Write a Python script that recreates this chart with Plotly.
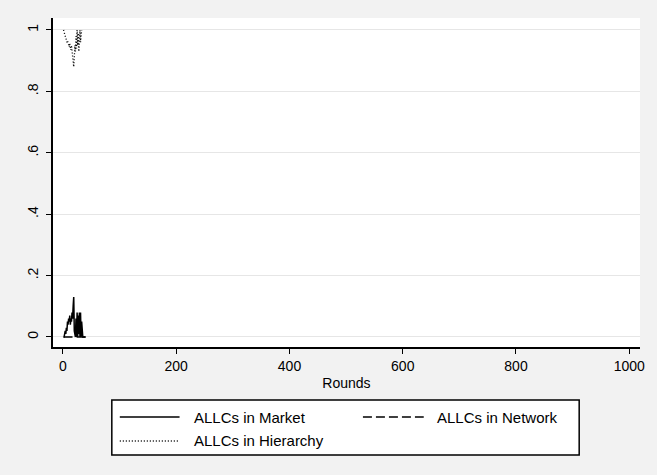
import plotly.graph_objects as go

rounds = list(range(1, 41))
market = [0, 0, 0.01, 0.02, 0.01, 0.03, 0.02, 0.05, 0.04, 0.06,
          0.05, 0.07, 0.04, 0.06, 0.05, 0.08, 0.06, 0.10, 0.13, 0.02,
          0, 0, 0.06, 0, 0.08, 0, 0.07, 0.01, 0.08, 0,
          0.08, 0, 0.05, 0, 0, 0, 0, 0, 0, 0]
network = [0] * 40
hier_rounds = list(range(1, 34))
hierarchy = [1.0, 0.99, 0.985, 0.98, 0.975, 0.97, 0.96, 0.965, 0.955, 0.95,
             0.945, 0.955, 0.94, 0.935, 0.95, 0.93, 0.92, 0.90, 0.88, 0.91,
             0.95, 0.93, 0.98, 0.94, 1.0, 0.95, 0.99, 0.93, 0.97, 1.0,
             0.96, 1.0, 1.0]

series_names = ["ALLCs in Market", "ALLCs in Network", "ALLCs in Hierarchy"]
x_ticks = [0, 200, 400, 600, 800, 1000]
y_ticks = [0, 0.2, 0.4, 0.6, 0.8, 1]
y_labels = ["0", ".2", ".4", ".6", ".8", "1"]

FONT = "Liberation Sans, Arial, Helvetica, sans-serif"
DOT = "1px,2px"
DASH = "9px,4px"

fig = go.Figure()
fig.add_trace(go.Scatter(x=rounds, y=network, mode="lines", name=series_names[1],
                         line=dict(color="black", width=1.3, dash=DASH)))
fig.add_trace(go.Scatter(x=hier_rounds, y=hierarchy, mode="lines", name=series_names[2],
                         line=dict(color="black", width=1.3, dash=DOT)))
fig.add_trace(go.Scatter(x=rounds, y=market, mode="lines", name=series_names[0],
                         line=dict(color="black", width=1.5)))

fig.update_layout(
    width=657, height=475,
    margin=dict(l=53, r=15, t=18, b=128),
    paper_bgcolor="#f2f2f2", plot_bgcolor="white",
    showlegend=False,
    font=dict(family=FONT, size=14, color="black"),
    xaxis=dict(range=[-17.6, 1019], tickvals=x_ticks, showgrid=False, zeroline=False,
               showline=True, linecolor="black", linewidth=1.5, ticks="outside",
               ticklen=5, tickcolor="black",
               title=dict(text="Rounds", standoff=6, font=dict(size=14)),
               tickfont=dict(size=14)),
    yaxis=dict(range=[-0.0326, 1.039], tickvals=y_ticks, ticktext=y_labels, tickangle=-90,
               showgrid=True, gridcolor="#e6e6e6", gridwidth=1, zeroline=False,
               showline=True, linecolor="black", linewidth=1.5, ticks="outside",
               ticklen=5, tickcolor="black", tickfont=dict(size=14),
               ticklabelstandoff=3),
)

# legend box drawn in paper coordinates
fig.add_shape(type="rect", xref="paper", yref="paper", x0=0.1002, x1=0.8964,
              y0=-0.3283, y1=-0.1611, line=dict(color="black", width=1.5),
              fillcolor="white", layer="above")
rows = [(-0.2128, 0.1138, 0.2156, 0.236, "solid", series_names[0]),
        (-0.2128, 0.528, 0.6316, 0.6503, DASH, series_names[1]),
        (-0.2857, 0.1138, 0.2156, 0.236, DOT, series_names[2])]
for yy, xa, xb, xt, dash, name in rows:
    fig.add_shape(type="line", xref="paper", yref="paper", x0=xa, x1=xb, y0=yy, y1=yy,
                  line=dict(color="black", width=1.3, dash=dash), layer="above")
    fig.add_annotation(xref="paper", yref="paper", x=xt, y=yy, text=name, showarrow=False,
                       xanchor="left", yanchor="middle", font=dict(size=15))

fig.write_html("out.html", config={"displayModeBar": False},
               post_script="document.body.style.margin='0';")
